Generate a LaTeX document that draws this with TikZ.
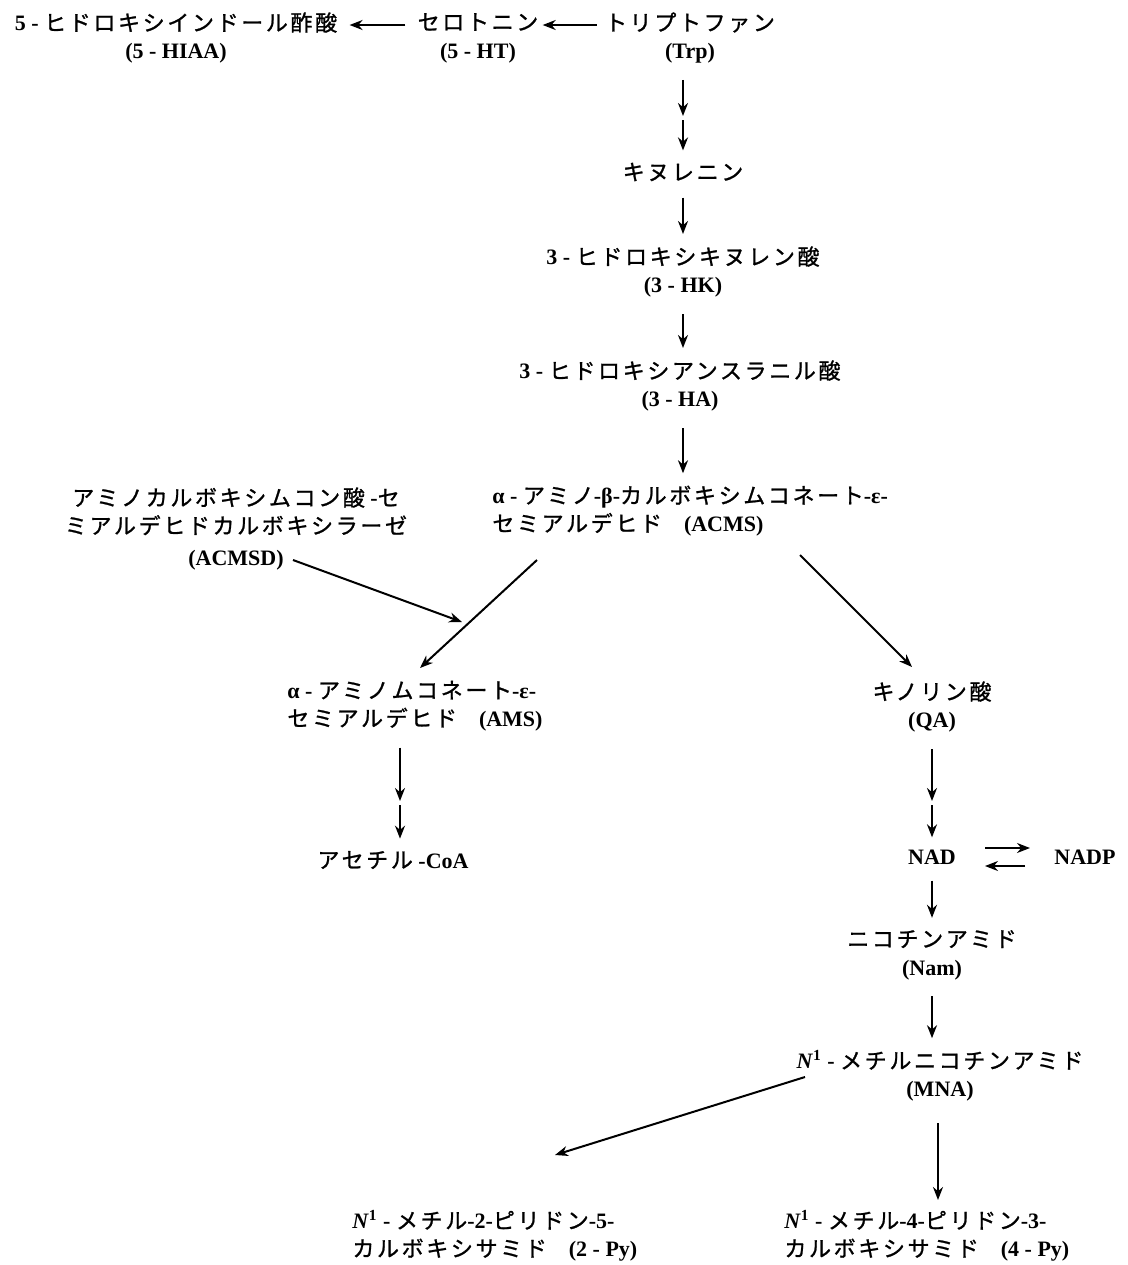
\documentclass[tikz,border=0pt]{standalone}
\usepackage{fontspec}
\setmainfont{Liberation Serif}
\newfontfamily\jpfont{Noto Sans CJK JP}[LetterSpace=12, FakeBold=1.1]
\usetikzlibrary{calc, arrows.meta}
\newcommand{\jp}[1]{{\jpfont\mdseries #1}}

\begin{document}
\begin{tikzpicture}[x=0.5pt, y=-0.5pt,
		every node/.style={font=\fontsize{11}{14}\selectfont\bfseries, inner sep=2pt},
		reaction/.style={-{Stealth[length=6.5pt, width=5pt]}, line width=1pt, shorten <=6pt, shorten >=4pt}]
			\useasboundingbox (0,0) rectangle (1128,1265);

			% top row
			\node (hiaa) at (176,38) [align=center] {5 - \jp{ヒドロキシインドール酢酸}\\(5 - HIAA)};
			\node (ht) at (478,38) [align=center] {\jp{セロトニン}\\(5 - HT)};
			\node (trp) at (690,38) [align=center] {\jp{トリプトファン}\\(Trp)};

			% main chain
			\node (kyn) at (683,172) {\jp{キヌレニン}};
			\node (hk) at (683,272) [align=center] {3 - \jp{ヒドロキシキヌレン酸}\\(3 - HK)};
			\node (ha) at (680,386) [align=center] {3 - \jp{ヒドロキシアンスラニル酸}\\(3 - HA)};
			\node (acms) at (488,511) [anchor=west, align=left] {α - \jp{アミノ}-β-\jp{カルボキシムコネート}-ε-\\\jp{セミアルデヒド}\quad(ACMS)};
			\node (acmsd) at (236,529) [align=center] {\jp{アミノカルボキシムコン酸} -\jp{セ}\\\jp{ミアルデヒドカルボキシラーゼ}\\[2pt](ACMSD)};

			% branches
			\node (ams) at (283,706) [anchor=west, align=left] {α - \jp{アミノムコネート}-ε-\\\jp{セミアルデヒド}\quad(AMS)};
			\node (qa) at (932,707) [align=center] {\jp{キノリン酸}\\(QA)};
			\node (accoa) at (393,860) {\jp{アセチル} -CoA};
			\node (nad) at (932,857) {NAD};
			\node (nadp) at (1085,857) {NADP};
			\node (nam) at (932,955) [align=center] {\jp{ニコチンアミド}\\(Nam)};
			\node (mna) at (940,1076) [align=center] {\textit{N}\textsuperscript{1} - \jp{メチルニコチンアミド}\\(MNA)};
			\node (py2) at (348,1236) [anchor=west, align=left] {\textit{N}\textsuperscript{1} - \jp{メチル}-2-\jp{ピリドン}-5-\\\jp{カルボキシサミド}\quad(2 - Py)};
			\node (py4) at (780,1236) [anchor=west, align=left] {\textit{N}\textsuperscript{1} - \jp{メチル}-4-\jp{ピリドン}-3-\\\jp{カルボキシサミド}\quad(4 - Py)};

			\coordinate (trp mid) at (683,118);
			\coordinate (ams mid) at (400,803);
			\coordinate (qa mid) at (932,803);

			\begin{scope}[reaction]
				\draw [shorten <=4pt] ($ (ht.west) + (0,-13) $) -- ($ (hiaa.east) + (0,-13) $);
				\draw [shorten <=2pt, shorten >=0pt] ($ (trp.west) + (0,-13) $) -- ($ (ht.east) + (0,-13) $);

				\draw [shorten >=1pt] (trp mid |- trp.south) -- (trp mid);
				\draw [shorten <=1pt] (trp mid) -- (trp mid |- kyn.north);
				\draw (kyn) -- (hk);
				\draw (hk.south) -- (hk.south |- ha.north);
				\draw (hk.south |- ha.south) -- (hk.south |- acms.north);

				\draw [shorten <=0pt, shorten >=0pt] ($ (acmsd.center) + (57,31) $) -- ($ (acms.west) + (-26,111) $);
				\draw [shorten <=0pt, shorten >=0pt] ($ (acms.west) + (49,49) $) -- ($ (ams.west) + (137,-38) $);
				\draw [shorten <=0pt, shorten >=0pt] ($ (acms.west) + (312,44) $) -- ($ (qa.center) + (-20,-40) $);

				\draw [shorten >=1pt] (ams mid |- ams.south) -- (ams mid);
				\draw [shorten <=1pt] (ams mid) -- (ams mid |- accoa.north);
				\draw [shorten >=1pt] (qa) -- (qa mid);
				\draw [shorten <=1pt] (qa mid) -- (nad);

				\draw [shorten <=0pt, shorten >=0pt] ($ (nad.center) + (53,-9) $) -- ($ (nadp.center) + (-55,-9) $);
				\draw [shorten <=0pt, shorten >=0pt] ($ (nadp.center) + (-60,9) $) -- ($ (nad.center) + (53,9) $);
				\draw (nad) -- (nam);
				\draw (nam) -- (nam |- mna.north);

				\draw [shorten <=0pt, shorten >=0pt] ($ (mna.center) + (-135,1) $) -- ($ (py2.west) + (207,-81) $);
				\draw [shorten <=0pt, shorten >=0pt] ($ (mna.center) + (-2,47) $) -- ($ (py4.west) + (158,-36) $);
			\end{scope}
		\end{tikzpicture}
\end{document}
